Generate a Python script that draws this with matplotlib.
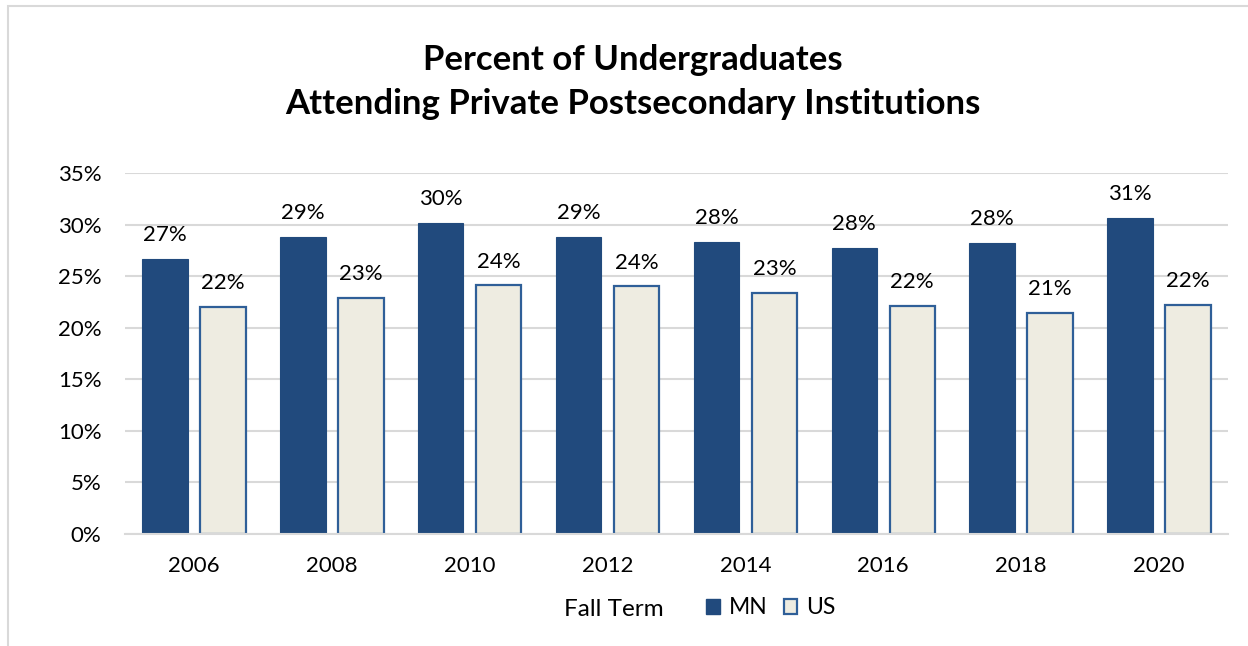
import numpy as np
import matplotlib
matplotlib.use("Agg")
import matplotlib.pyplot as plt
from matplotlib.patches import Patch, Rectangle

years = ["2006", "2008", "2010", "2012", "2014", "2016", "2018", "2020"]
mn = [26.7, 28.8, 30.2, 28.8, 28.3, 27.7, 28.2, 30.6]
us = [22.0, 22.9, 24.1, 24.0, 23.4, 22.1, 21.4, 22.2]
yticks = [0, 5, 10, 15, 20, 25, 30, 35]

MN_COLOR = "#214A7D"
US_FILL = "#EEECE1"
US_EDGE = "#2F5F98"

plt.rcParams['font.family'] = ['Lato', 'DejaVu Sans']

fig = plt.figure(figsize=(12.48, 6.46), dpi=100)
ax = fig.add_axes([125/1248, 1 - 534/646, (1228 - 125)/1248, (534 - 173)/646])

x = np.arange(len(years))
w = 0.33
b1 = ax.bar(x - 0.21, mn, w, color=MN_COLOR, edgecolor=MN_COLOR, linewidth=0.8, zorder=3)
b2 = ax.bar(x + 0.21, us, w, color=US_FILL, edgecolor=US_EDGE, linewidth=1.6, zorder=3)
ax.bar_label(b1, labels=[f"{v:.0f}%" for v in mn], padding=10, fontsize=16)
ax.bar_label(b2, labels=[f"{v:.0f}%" for v in us], padding=10, fontsize=16)

ax.set_xlim(-0.5, len(years) - 0.5)
ax.set_ylim(0, 35)
ax.set_yticks(yticks)
ax.set_yticklabels([f"{t}%" for t in yticks], fontsize=16)
ax.set_xticks(x)
ax.set_xticklabels(years, fontsize=16)
ax.tick_params(length=0)
ax.tick_params(axis='x', pad=16)
ax.tick_params(axis='y', pad=17)
ax.grid(axis='y', color="#D9D9D9", linewidth=1.5, zorder=0)
for s in ["top", "right", "left"]:
    ax.spines[s].set_visible(False)
ax.spines["bottom"].set_color("#D9D9D9")
ax.spines["bottom"].set_linewidth(1.5)
ax.spines["bottom"].set_zorder(4)

fig.text(0.507, 1 - 60/646, "Percent of Undergraduates", ha="center", va="center",
         fontsize=25, fontweight="bold")
fig.text(0.507, 1 - 104/646, "Attending Private Postsecondary Institutions", ha="center",
         va="center", fontsize=25, fontweight="bold")

fig.text(614/1248, 1 - 609/646, "Fall Term", ha="center", va="center", fontsize=17.5)
handles = [Patch(facecolor=MN_COLOR, edgecolor=MN_COLOR, label="MN"),
           Patch(facecolor=US_FILL, edgecolor=US_EDGE, linewidth=1.6, label="US")]
fig.legend(handles=handles, loc="center", bbox_to_anchor=(771/1248, 1 - 608/646), ncol=2,
           frameon=False, fontsize=16.5, handlelength=0.6, handleheight=0.6,
           handletextpad=0.4, columnspacing=0.7)

fig.patches.append(Rectangle((8/1248, -0.1), 1.2, 1 - 6/646 + 0.1, transform=fig.transFigure,
                             fill=False, edgecolor="#D9D9D9", linewidth=1.5))

fig.savefig("out.png", dpi=100)
